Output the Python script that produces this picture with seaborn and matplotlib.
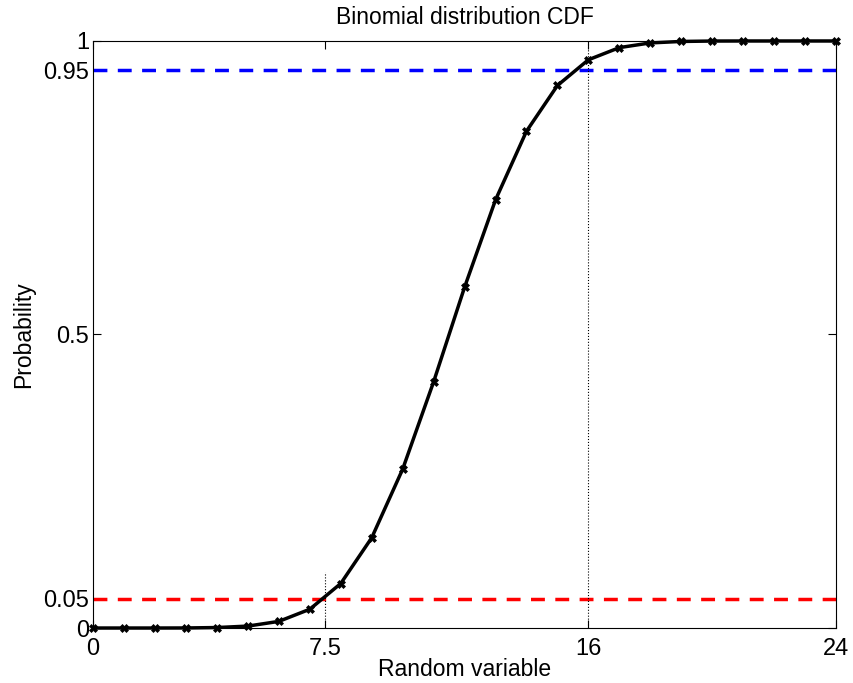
import matplotlib
matplotlib.use("Agg")
import matplotlib.pyplot as plt
import seaborn as sns
import pandas as pd

x_values = list(range(25))
cdf_values = [0.0, 0.0, 0.0, 0.0001, 0.0008, 0.0033, 0.0113, 0.0320, 0.0758, 0.1537,
              0.2706, 0.4194, 0.5806, 0.7294, 0.8463, 0.9242, 0.9680, 0.9887, 0.9967,
              0.9992, 0.9999, 1.0, 1.0, 1.0, 1.0]
lower_level = 0.05
upper_level = 0.95
lower_x = 7.5
lower_x_top = 0.095
upper_x = 16
upper_x_top = 1.0
x_ticks = [0, 7.5, 16, 24]
x_tick_labels = ["0", "7.5", "16", "24"]
y_ticks = [0, 0.05, 0.5, 0.95, 1]
y_tick_labels = ["0", "0.05", "0.5", "0.95", "1"]

sns.set_theme(style="white")
plt.rcParams['font.family'] = ['Liberation Sans', 'DejaVu Sans']
plt.rcParams['text.color'] = 'black'
plt.rcParams['axes.labelcolor'] = 'black'
plt.rcParams['xtick.color'] = 'black'
plt.rcParams['ytick.color'] = 'black'

df = pd.DataFrame({"x": x_values, "cdf": cdf_values})

fig = plt.figure(figsize=(8.54, 6.83), dpi=100)
ax = fig.add_axes([0.109, 0.0805, 0.870, 0.8595])

ax.axhline(lower_level, color="#ff0000", ls=(0, (4, 3)), lw=2.5, zorder=1)
ax.axhline(upper_level, color="#0000ff", ls=(0, (4, 3)), lw=2.5, zorder=1)
ax.plot([lower_x, lower_x], [0, lower_x_top], color="black", ls=":", lw=0.8, zorder=1)
ax.plot([upper_x, upper_x], [0, upper_x_top], color="black", ls=":", lw=0.8, zorder=1)

sns.lineplot(data=df, x="x", y="cdf", ax=ax, color="black", lw=2.5,
             marker="X", markersize=6, markeredgewidth=0.5, markeredgecolor="black",
             zorder=3, clip_on=False)

ax.set_xlim(0, 24)
ax.set_ylim(0, 1)
ax.set_xticks(x_ticks)
ax.set_xticklabels(x_tick_labels)
ax.set_yticks(y_ticks)
ax.set_yticklabels(y_tick_labels)
ax.tick_params(axis="both", direction="in", length=6, width=0.8, labelsize=17,
               top=True, right=True, bottom=True, left=True, colors="black")
ax.tick_params(axis="x", pad=7)
ax.tick_params(axis="y", pad=3)
for s in ax.spines.values():
    s.set_color("black")
    s.set_linewidth(0.8)
ax.set_xlabel("Random variable", fontsize=16.5, labelpad=-1, color="black")
ax.set_ylabel("Probability", fontsize=16.5, labelpad=6, color="black")
ax.set_title("Binomial distribution CDF", fontsize=16.5, pad=12, color="black")
ax.grid(False)

fig.savefig("out.png", dpi=100)
